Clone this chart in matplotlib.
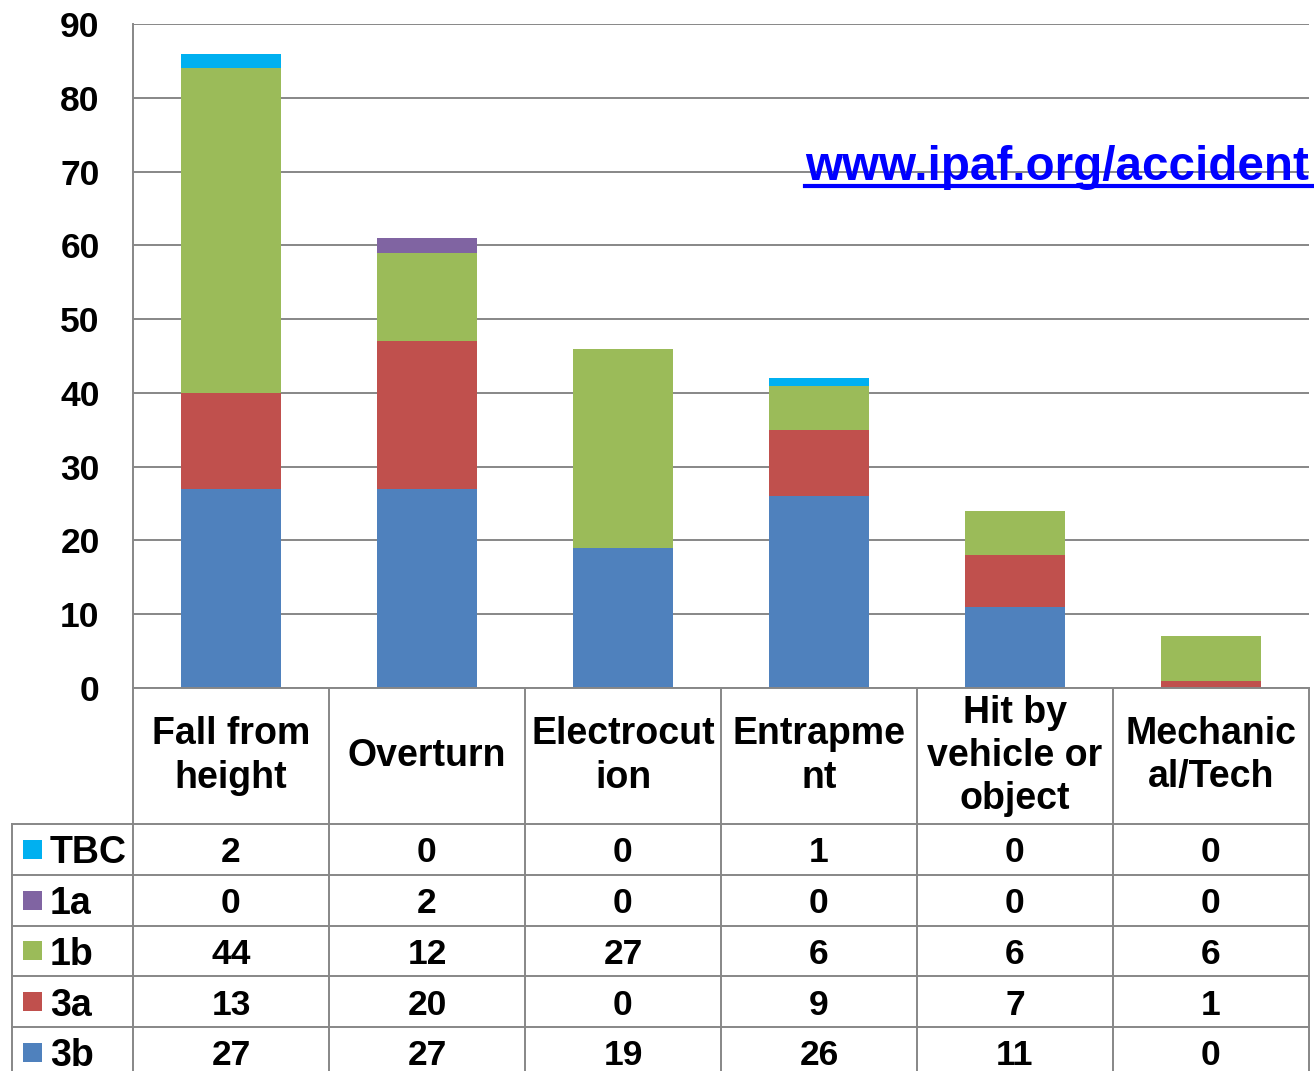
import numpy as np
import matplotlib.pyplot as plt
from matplotlib.lines import Line2D

plt.rcParams['font.family'] = ['Liberation Sans', 'DejaVu Sans']
plt.rcParams['font.weight'] = 'bold'

## DATA

categories = ["Fall from\nheight", "Overturn", "Electrocut\nion", "Entrapme\nnt",
              "Hit by\nvehicle or\nobject", "Mechanic\nal/Tech"]
series = ["TBC", "1a", "1b", "3a", "3b"]
tbc = [2, 0, 0, 1, 0, 0]
s1a = [0, 2, 0, 0, 0, 0]
s1b = [44, 12, 27, 6, 6, 6]
s3a = [13, 20, 0, 9, 7, 1]
s3b = [27, 27, 19, 26, 11, 0]
colors = {"TBC": "#00B0F0", "1a": "#8064A2", "1b": "#9BBB59", "3a": "#C0504D", "3b": "#4F81BD"}
yticks = [0, 10, 20, 30, 40, 50, 60, 70, 80, 90]
url = "www.ipaf.org/accident"

values = {"TBC": tbc, "1a": s1a, "1b": s1b, "3a": s3a, "3b": s3b}

W, H = 1314, 1071
fig = plt.figure(figsize=(W / 100, H / 100), dpi=100)
grid_col = "#878787"

## CHART

left, right, top, bottom = 133, 1309, 24, 688
ax = fig.add_axes([left / W, 1 - bottom / H, (right - left) / W, (bottom - top) / H])
x = np.arange(len(categories))
base = np.zeros(len(categories))
for name in ["3b", "3a", "1b", "1a", "TBC"]:
    vals = np.array(values[name], dtype=float)
    ax.bar(x, vals, 0.515, bottom=base, color=colors[name], zorder=3)
    base += vals

ax.set_xlim(-0.5, len(categories) - 0.5)
ax.set_ylim(0, 90)
ax.set_yticks(yticks)
ax.set_yticklabels([str(t) for t in yticks], fontsize=25.5, fontweight='bold')
ax.set_xticks([])
ax.tick_params(axis='y', length=0, pad=24)
ax.grid(axis='y', color=grid_col, linewidth=1.4, zorder=0)
for s in ["top", "right", "bottom"]:
    ax.spines[s].set_visible(False)
ax.spines["left"].set_color(grid_col)
ax.spines["left"].set_linewidth(1.4)

url_txt = ax.text(2.929, 68.85, url, color="#0000FF", fontsize=34.3, fontweight='bold',
                  ha='left', va='baseline', zorder=5)

## TABLE

row_h = 50.75
head_h = 136 / row_h
lab_w = 121 / 196
tax = fig.add_axes([12 / W, 0, (right - 12) / W, (H - bottom) / H])
tax.set_xlim(-0.5 - lab_w, len(categories) - 0.5)
tax.set_ylim((H - bottom) / row_h, 0)
tax.axis('off')

lw = 1.4
# header row
tax.plot([-0.5, len(categories) - 0.5], [0, 0], color=grid_col, lw=lw, clip_on=False)
for i in range(len(categories) + 1):
    tax.plot([i - 0.5, i - 0.5], [0, 10], color=grid_col, lw=lw, clip_on=False)
tax.plot([-0.5 - lab_w, -0.5 - lab_w], [head_h, 10], color=grid_col, lw=lw, clip_on=False)
for j in range(len(series) + 1):
    yy = head_h + j
    tax.plot([-0.5 - lab_w, len(categories) - 0.5], [yy, yy], color=grid_col, lw=lw, clip_on=False)

for i, cat in enumerate(categories):
    tax.text(i, head_h / 2, cat, ha='center', va='center', fontsize=27,
             fontweight='bold', linespacing=1.25)

for j, name in enumerate(series):
    yc = head_h + j + 0.5
    tax.scatter([-0.5 - lab_w + 20.5 / 196], [yc], marker='s', s=185,
                color=colors[name], edgecolors='none', clip_on=False)
    tax.text(-0.5 - lab_w + 38 / 196, yc, name, ha='left', va='center_baseline',
             fontsize=27, fontweight='bold')
    for i, v in enumerate(values[name]):
        tax.text(i, yc, str(v), ha='center', va='center_baseline', fontsize=25.5,
                 fontweight='bold')

# underline for url
fig.canvas.draw()
bb = url_txt.get_window_extent()
fig.add_artist(Line2D([bb.x0 / W, W / W], [(H - 186) / H, (H - 186) / H],
                      color="#0000FF", lw=3, transform=fig.transFigure))

fig.savefig("out.png", dpi=100)
